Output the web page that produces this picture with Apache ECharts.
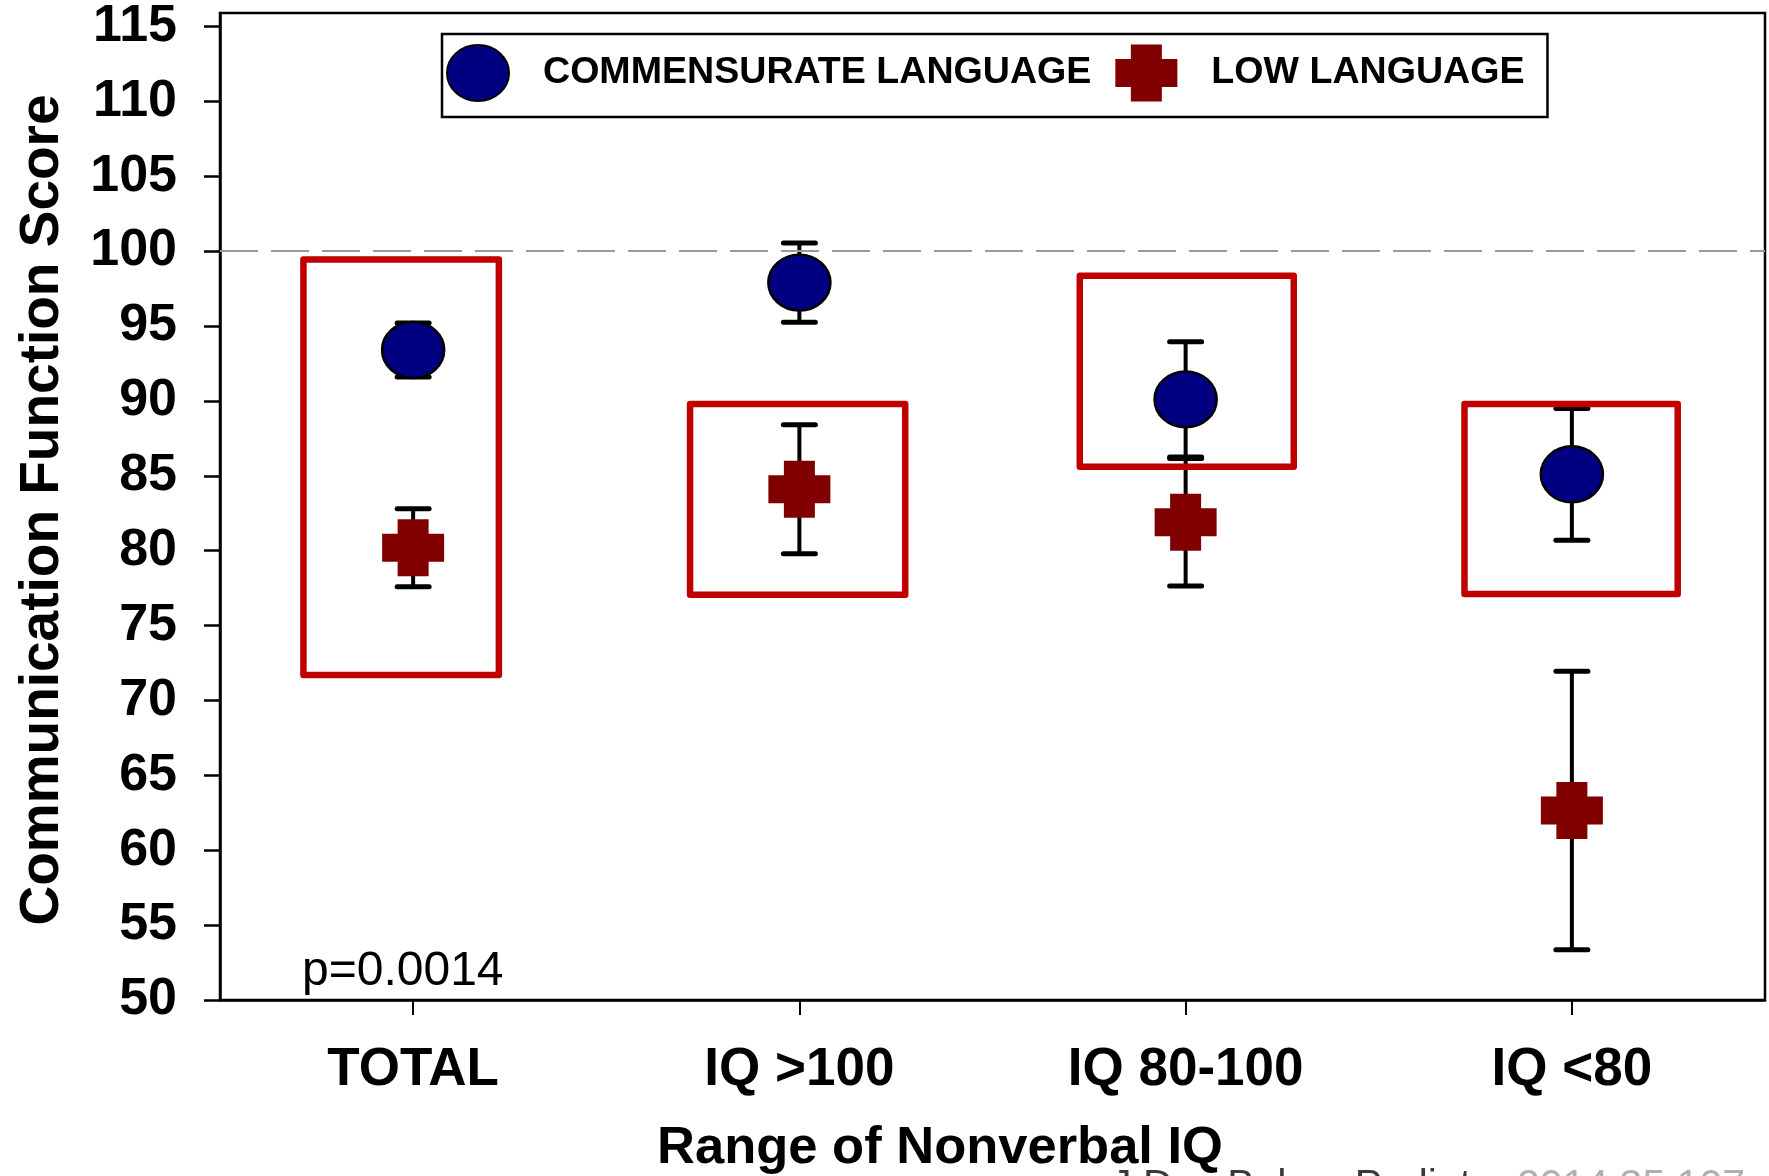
<!DOCTYPE html>
<html>
<head>
<meta charset="utf-8">
<title>Communication Function Score by Range of Nonverbal IQ</title>
<script src="https://cdn.jsdelivr.net/npm/echarts@6/dist/echarts.min.js"></script>
<style>
  html, body { margin: 0; padding: 0; background: #fff; }
  #chart { width: 1769px; height: 1176px; }
</style>
</head>
<body>
<div id="chart"></div>
<script>
// Groups along the x axis
const categories = ['TOTAL', 'IQ >100', 'IQ 80-100', 'IQ <80'];

// Mean score and error (±) for each language group
const commensurateMean = [93.4, 97.9, 90.1, 85.1];
const commensurateErr  = [1.8, 2.65, 3.85, 4.4];
const lowMean = [80.2, 84.1, 81.9, 62.65];
const lowErr  = [2.6, 4.3, 4.25, 9.3];

// Highlight boxes: score range each box spans
const boxTop    = [99.45, 89.8, 98.35, 89.8];
const boxBottom = [71.7, 77.05, 85.6, 77.1];

// Y axis tick values and the normal-score reference
const yTicks = [50, 55, 60, 65, 70, 75, 80, 85, 90, 95, 100, 105, 110, 115];
const referenceScore = 100;
const pValueText = 'p=0.0014';

// ---- drawing constants ----
const FONT = "'Liberation Sans', Arial, Helvetica, sans-serif";
const NAVY = '#000080';
const MAROON = '#800000';
const BOX_RED = '#c00000';
// horizontal extent of each box, as fractions of the category band
const BOX_SPAN = [[-0.284, 0.222], [-0.283, 0.274], [-0.274, 0.28], [-0.278, 0.274]];
const CAP_HALF = 16;

const ELLIPSE = 'path://M0,28 A31,28 0 1,0 62,28 A31,28 0 1,0 0,28 Z';
const PLUS = 'path://M15.5,0 L46.5,0 L46.5,14.5 L62,14.5 L62,42.5 L46.5,42.5 L46.5,57 L15.5,57 L15.5,42.5 L0,42.5 L0,14.5 L15.5,14.5 Z';

function errorData(mean, err) {
  return mean.map((m, i) => [i, m - err[i], m + err[i]]);
}

function renderErrorBar(params, api) {
  const i = api.value(0);
  const x = api.coord([i, 0])[0];
  const yLo = api.coord([i, api.value(1)])[1];
  const yHi = api.coord([i, api.value(2)])[1];
  const stem = { stroke: '#000', lineWidth: 4 };
  const cap = { stroke: '#000', lineWidth: 5, lineCap: 'round' };
  return {
    type: 'group',
    children: [
      { type: 'line', shape: { x1: x, y1: yHi, x2: x, y2: yLo }, style: stem },
      { type: 'line', shape: { x1: x - CAP_HALF, y1: yHi, x2: x + CAP_HALF, y2: yHi }, style: cap },
      { type: 'line', shape: { x1: x - CAP_HALF, y1: yLo, x2: x + CAP_HALF, y2: yLo }, style: cap }
    ]
  };
}

function renderBox(params, api) {
  const i = api.value(0);
  const band = api.size([1, 0])[0];
  const cx = api.coord([i, 0])[0];
  const yT = api.coord([i, api.value(1)])[1];
  const yB = api.coord([i, api.value(2)])[1];
  const left = cx + BOX_SPAN[i][0] * band;
  const right = cx + BOX_SPAN[i][1] * band;
  return {
    type: 'rect',
    shape: { x: left, y: yT, width: right - left, height: yB - yT },
    style: { fill: 'none', stroke: BOX_RED, lineWidth: 6.5, lineJoin: 'round' }
  };
}

const chart = echarts.init(document.getElementById('chart'), null, { renderer: 'canvas' });

chart.setOption({
  animation: false,
  backgroundColor: '#fff',
  textStyle: { fontFamily: FONT },
  grid: {
    left: 220, right: 4, top: 13, bottom: 176,
    show: true, borderColor: '#000', borderWidth: 2.5, backgroundColor: 'transparent'
  },
  legend: {
    left: 442, top: 34,
    orient: 'horizontal',
    data: [
      { name: 'COMMENSURATE LANGUAGE', icon: ELLIPSE },
      { name: 'LOW LANGUAGE', icon: PLUS }
    ],
    itemWidth: 62, itemHeight: 57, itemGap: 24,
    padding: [10, 23, 15, 4],
    borderColor: '#000', borderWidth: 2.5,
    backgroundColor: '#fff',
    selectedMode: false,
    textStyle: {
      fontFamily: FONT, fontWeight: 'bold', fontSize: 37.6, color: '#000',
      padding: [0, 0, 0, 29]
    }
  },
  xAxis: {
    type: 'category',
    data: categories,
    boundaryGap: true,
    axisLine: { show: true, lineStyle: { color: '#000', width: 2.5 } },
    axisTick: { show: true, alignWithLabel: true, length: 15, lineStyle: { color: '#000', width: 2 } },
    axisLabel: {
      margin: 44, color: '#000', fontFamily: FONT, fontWeight: 'bold', fontSize: 53
    },
    splitLine: { show: false }
  },
  yAxis: {
    type: 'value',
    min: 50, max: 115.9, interval: 5,
    axisLine: { show: true, lineStyle: { color: '#000', width: 2.5 } },
    axisTick: {
      show: true, length: 16, customValues: yTicks,
      lineStyle: { color: '#000', width: 2.5 }
    },
    axisLabel: {
      margin: 43, color: '#000', fontFamily: FONT, fontWeight: 'bold', fontSize: 52,
      customValues: yTicks
    },
    splitLine: { show: false }
  },
  series: [
    {
      name: 'commensurate error',
      type: 'custom',
      renderItem: renderErrorBar,
      data: errorData(commensurateMean, commensurateErr),
      encode: { x: 0, y: [1, 2] },
      z: 2,
      silent: true
    },
    {
      name: 'low error',
      type: 'custom',
      renderItem: renderErrorBar,
      data: errorData(lowMean, lowErr),
      encode: { x: 0, y: [1, 2] },
      z: 2,
      silent: true,
      markLine: {
        silent: true,
        symbol: 'none',
        label: { show: false },
        lineStyle: { color: '#9a9a9a', width: 2, type: [38, 13] },
        data: [{ yAxis: referenceScore }]
      }
    },
    {
      name: 'boxes',
      type: 'custom',
      renderItem: renderBox,
      data: boxTop.map((t, i) => [i, t, boxBottom[i]]),
      encode: { x: 0, y: [1, 2] },
      z: 3,
      silent: true
    },
    {
      name: 'COMMENSURATE LANGUAGE',
      type: 'scatter',
      symbol: ELLIPSE,
      symbolSize: [62, 56],
      data: commensurateMean,
      itemStyle: { color: NAVY, borderColor: '#000', borderWidth: 2.5, opacity: 1 },
      emphasis: { disabled: true },
      z: 4
    },
    {
      name: 'LOW LANGUAGE',
      type: 'scatter',
      symbol: PLUS,
      symbolSize: [62, 57],
      data: lowMean,
      itemStyle: { color: MAROON, borderWidth: 0, opacity: 1 },
      emphasis: { disabled: true },
      z: 4
    }
  ],
  graphic: [
    {
      type: 'text',
      x: 43, y: 510,
      rotation: Math.PI / 2,
      style: {
        text: 'Communication Function Score',
        fontFamily: FONT, fontWeight: 'bold', fontSize: 55, fill: '#000',
        align: 'center', verticalAlign: 'middle'
      }
    },
    {
      type: 'text',
      x: 940, y: 1149,
      style: {
        text: 'Range of Nonverbal IQ',
        fontFamily: FONT, fontWeight: 'bold', fontSize: 52.5, fill: '#000',
        align: 'center', verticalAlign: 'middle'
      }
    },
    {
      type: 'text',
      x: 302, y: 972,
      style: {
        text: pValueText,
        fontFamily: FONT, fontWeight: 'normal', fontSize: 48, fill: '#000',
        align: 'left', verticalAlign: 'middle'
      }
    },
    {
      type: 'text',
      x: 1111, y: 1187,
      style: {
        text: 'J Dev Behav Pediatr',
        fontFamily: FONT, fontSize: 41, fill: '#3a3a3a',
        align: 'left', verticalAlign: 'middle'
      }
    },
    {
      type: 'text',
      x: 1517, y: 1187,
      style: {
        text: '2014;35:107–115',
        fontFamily: FONT, fontSize: 41, fill: '#b0b0b0',
        align: 'left', verticalAlign: 'middle'
      }
    }
  ]
});
</script>
</body>
</html>
